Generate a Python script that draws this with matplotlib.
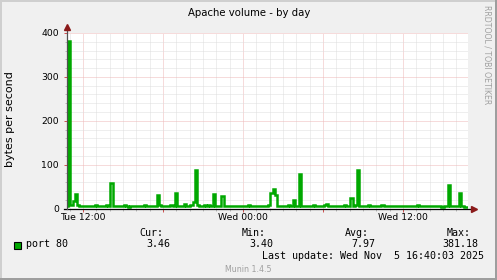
import numpy as np
import matplotlib
matplotlib.use("Agg")
import matplotlib.pyplot as plt
from matplotlib.patches import Rectangle

# --- data (10 minute samples, bytes/s) ---
start_hour = 10.8          # hours since Tue 00:00
step_hours = 1.0 / 6.0
port80 = [
    6.2, 381.18, 7.5, 18.0, 32.0, 7.1, 5.4, 4.9, 6.3, 5.8,
    4.7, 6.6, 5.2, 7.4, 5.9, 4.8, 6.1, 5.5, 6.9, 5.3,
    57.0, 6.4, 5.1, 4.6, 6.0, 5.7, 7.2, 5.0, 4.4, 6.5,
    5.9, 5.3, 6.8, 4.9, 5.6, 7.0, 5.2, 4.7, 6.2, 5.8,
    6.6, 30.0, 7.3, 5.4, 4.8, 6.1, 5.6, 6.9, 5.1, 36.0,
    6.7, 5.5, 4.6, 9.8, 6.0, 5.3, 7.1, 15.0, 87.0, 8.2,
    6.4, 5.7, 7.6, 5.2, 8.4, 6.1, 32.0, 5.5, 6.3, 4.9,
    29.0, 6.8, 5.4, 4.7, 6.0, 5.9, 5.1, 6.6, 4.8, 5.7,
    6.2, 5.0, 6.9, 5.3, 4.6, 6.4, 5.8, 5.2, 6.7, 5.5,
    6.1, 7.8, 36.0, 45.0, 30.0, 6.3, 5.6, 4.9, 6.2, 5.4,
    7.0, 5.8, 19.0, 6.1, 5.3, 79.0, 6.5, 5.0, 6.8, 5.6,
    4.7, 8.5, 5.9, 6.3, 5.1, 6.6, 8.9, 10.0, 6.2, 5.4,
    4.8, 6.0, 5.7, 6.4, 5.2, 7.1, 5.5, 6.0, 25.0, 6.8,
    8.1, 87.0, 6.4, 5.2, 4.9, 6.1, 7.6, 5.6, 4.7, 6.3,
    5.8, 5.1, 6.9, 5.4, 6.0, 4.8, 5.7, 6.5, 5.3, 4.6,
    6.2, 5.9, 5.0, 6.7, 5.5, 4.9, 6.1, 5.6, 7.2, 5.1,
    4.7, 6.4, 5.8, 5.3, 6.0, 4.8, 5.7, 6.6, 5.2, 4.5,
    6.3, 5.4, 53.0, 6.0, 4.9, 5.6, 6.8, 36.0, 5.1, 4.2,
    3.46,
]
x_tick_hours = [12, 24, 36]
x_tick_labels = ["Tue 12:00", "Wed 00:00", "Wed 12:00"]
y_ticks = [0, 100, 200, 300, 400]
stat_names = ["Cur:", "Min:", "Avg:", "Max:"]
stat_values = ["3.46", "3.40", "7.97", "381.18"]

W, H = 497, 280
GREEN = "#00A800"
BACK = "#F0F0F0"
MGRID = "#EFB8B8"
GRID = "#DEDEDE"
ARROW = "#8B1A1A"


def fx(px):
    return px / W


def fy(py):
    return 1 - py / H


fig = plt.figure(figsize=(W / 100, H / 100), dpi=100, facecolor=BACK)

# frame shading
fig.add_artist(Rectangle((0, fy(1.5)), 1, 1.5 / H, transform=fig.transFigure, color="#CFCFCF", lw=0))
fig.add_artist(Rectangle((0, 0), 1.5 / W, 1, transform=fig.transFigure, color="#CFCFCF", lw=0))
fig.add_artist(Rectangle((0, 0), 1, 2.5 / H, transform=fig.transFigure, color="#9E9E9E", lw=0))
fig.add_artist(Rectangle((1 - 2 / W, 0), 2 / W, 1, transform=fig.transFigure, color="#9E9E9E", lw=0))

left, right, top, bottom = 67, 468, 33, 208.5
ax = fig.add_axes([fx(left), fy(bottom), (right - left) / W, (bottom - top) / H])
ax.set_facecolor("white")
for s in ax.spines.values():
    s.set_visible(False)

hours = start_hour + np.arange(len(port80)) * step_hours
x0, x1 = start_hour, start_hour + (right - left) / (160 / 12)
ax.set_xlim(x0, x1)
ax.set_ylim(0, 400)

# grid
dot = (0, (1, 1))
for h in range(11, 41):
    major = (h % 6 == 0)
    ax.axvline(h, color=MGRID if major else GRID, lw=0.72, ls=dot, zorder=1)
for v in range(20, 401, 20):
    major = (v % 100 == 0)
    ax.axhline(v, color=MGRID if major else GRID, lw=0.72, ls=dot, zorder=1)

ax.plot(hours, port80, drawstyle="steps-mid", color=GREEN, lw=1.8, zorder=3,
        solid_joinstyle="miter")

# axes lines + arrows
pxw = 1.0 / (right - left)
pxh = 1.0 / (bottom - top)
ax.plot([-3 * pxw, 1 + 3 * pxw], [0, 0], transform=ax.transAxes, color="black",
        lw=0.9, clip_on=False, zorder=5)
ax.plot([0, 0], [0, 1 + 4 * pxh], transform=ax.transAxes, color="#505050",
        lw=0.9, clip_on=False, zorder=5)
ax.plot([1 + 6 * pxw], [0], marker=">", ms=4.5, color=ARROW, transform=ax.transAxes,
        clip_on=False, zorder=6, mec=ARROW)
ax.plot([0], [1 + 6 * pxh], marker="^", ms=4.5, color=ARROW, transform=ax.transAxes,
        clip_on=False, zorder=6, mec=ARROW)

# ticks
ax.set_xticks(list(range(12, 41, 6)))
ax.set_xticklabels([x_tick_labels[x_tick_hours.index(h)] if h in x_tick_hours else ""
                    for h in range(12, 41, 6)])
ax.set_xticks(list(range(11, 41)), minor=True)
ax.set_yticks(y_ticks)
ax.set_yticks(list(range(0, 401, 20)), minor=True)
ax.tick_params(axis="x", which="major", length=2.5, width=0.7, color="#D05050",
               labelsize=6.7, pad=1.0)
ax.tick_params(axis="x", which="minor", length=1.5, width=0.7, color="#B8B8B8")
ax.tick_params(axis="y", which="major", length=2.5, width=0.7, color="#D05050",
               labelsize=6.7, pad=3.2)
ax.tick_params(axis="y", which="minor", length=1.5, width=0.7, color="#B8B8B8")

# titles
fig.text(fx(249), fy(13), "Apache volume - by day", ha="center", va="center",
         fontsize=7.3, family="DejaVu Sans")
fig.text(fx(10.5), fy(119), "bytes per second", rotation=90, ha="center",
         va="center", fontsize=8.0, family="DejaVu Sans")
fig.text(fx(487), fy(5), "RRDTOOL / TOBI OETIKER", rotation=270, ha="center",
         va="top", fontsize=5.6, color="#A0A0A0", family="DejaVu Sans")

# legend
mono = "DejaVu Sans Mono"
fig.add_artist(Rectangle((fx(13.5), fy(248.5)), 7 / W, 7 / H, transform=fig.transFigure,
                         facecolor=GREEN, edgecolor="black", lw=0.8))
fig.text(fx(26.5), fy(244.3), "port 80", ha="left", va="center", fontsize=7.2, family=mono)
name_centers = [151.5, 254, 356.5, 458.5]
value_rights = [170.5, 273.5, 375.5, 478]
for name, val, nc, vr in zip(stat_names, stat_values, name_centers, value_rights):
    fig.text(fx(nc), fy(232.7), name, ha="center", va="center", fontsize=7.2, family=mono)
    fig.text(fx(vr), fy(244.3), val, ha="right", va="center", fontsize=7.2, family=mono)
fig.text(fx(484), fy(256), "Last update: Wed Nov  5 16:40:03 2025", ha="right",
         va="center", fontsize=7.2, family=mono)
fig.text(fx(248.5), fy(269), "Munin 1.4.5", ha="center", va="center", fontsize=5.7,
         color="#A0A0A0", family="DejaVu Sans")

fig.savefig("out.png", dpi=100, facecolor=BACK)
